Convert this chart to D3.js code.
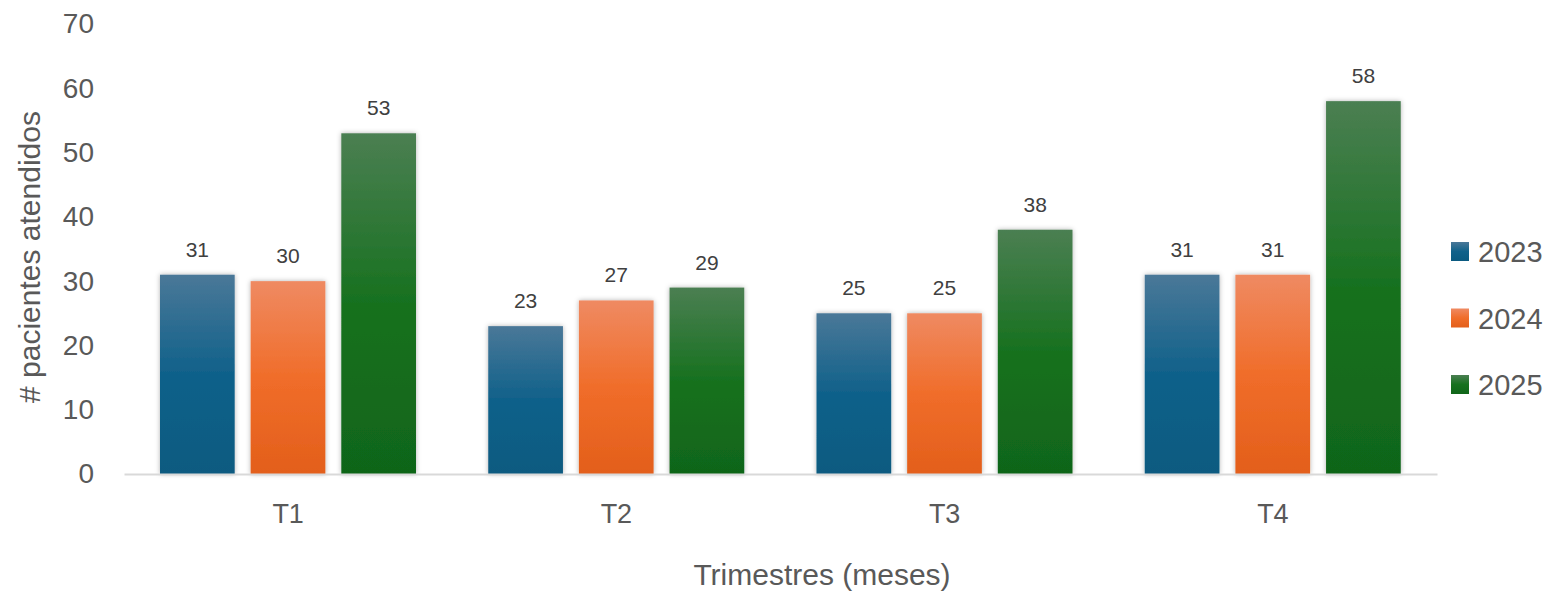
<!DOCTYPE html>
<html>
<head>
<meta charset="utf-8">
<script src="https://cdn.jsdelivr.net/npm/d3@7"></script>
<style>
  body { margin: 0; background: #fff; }
  text { font-family: "Liberation Sans", Arial, sans-serif; }
</style>
</head>
<body>
<svg width="1549" height="595"></svg>
<script>
var categories = ["T1", "T2", "T3", "T4"];
var series = ["2023", "2024", "2025"];
var values2023 = [31, 23, 25, 31];
var values2024 = [30, 27, 25, 31];
var values2025 = [53, 29, 38, 58];
var yTicks = [0, 10, 20, 30, 40, 50, 60, 70];

var seriesValues = [values2023, values2024, values2025];
// colores: arriba, medio, abajo
var colors = [
  ["#4a7898", "#10618a", "#0a5a80"],
  ["#ef8a62", "#f06d2a", "#e35f1b"],
  ["#4b7f52", "#17711f", "#106519"]
];

var svg = d3.select("svg");
var marge = {top: 24, left: 124};
var innerH = 474 - marge.top;

var defs = svg.append("defs");
colors.forEach(function(c, i) {
  var lg = defs.append("linearGradient")
    .attr("id", "grad" + i)
    .attr("x1", 0).attr("y1", 0).attr("x2", 0).attr("y2", 1);
  lg.append("stop").attr("offset", "0%").attr("stop-color", c[0]);
  lg.append("stop").attr("offset", "50%").attr("stop-color", c[1]);
  lg.append("stop").attr("offset", "100%").attr("stop-color", c[2]);
});
var filt = defs.append("filter").attr("id", "sombra")
  .attr("x", "-20%").attr("y", "-20%").attr("width", "140%").attr("height", "140%");
filt.append("feDropShadow")
  .attr("dx", 0).attr("dy", 0).attr("stdDeviation", 2.5)
  .attr("flood-color", "#000").attr("flood-opacity", 0.3);

var g = svg.append("g")
  .attr("transform", "translate(" + marge.left + "," + marge.top + ")");

var x0 = d3.scaleBand()
  .domain(categories)
  .range([0, 1313]);

var x1 = d3.scaleBand()
  .domain(d3.range(series.length))
  .range([36, 292])
  .paddingInner(0.176);

var yScale = d3.scaleLinear()
  .domain([0, 70])
  .range([innerH, 0]);

// eje y (solo etiquetas)
var yAxis = d3.axisLeft(yScale).tickValues(yTicks).tickSize(0).tickPadding(30);
var gy = g.append("g").call(yAxis);
gy.select(".domain").remove();
gy.selectAll("text")
  .attr("font-size", 28)
  .attr("fill", "#595959")
  .attr("font-family", "Liberation Sans, Arial, sans-serif");

// barras
var grupos = g.selectAll(".grupo")
  .data(categories)
  .enter()
  .append("g")
  .attr("transform", function(d) { return "translate(" + x0(d) + ",0)"; });

grupos.each(function(cat, ci) {
  var gg = d3.select(this);
  series.forEach(function(s, si) {
    var v = seriesValues[si][ci];
    gg.append("rect")
      .attr("x", x1(si))
      .attr("y", yScale(v))
      .attr("width", x1.bandwidth())
      .attr("height", innerH - yScale(v))
      .attr("fill", "url(#grad" + si + ")")
      .attr("filter", "url(#sombra)");
    gg.append("text")
      .attr("x", x1(si) + x1.bandwidth() / 2)
      .attr("y", yScale(v) - 18)
      .attr("text-anchor", "middle")
      .attr("font-size", 21)
      .attr("fill", "#404040")
      .text(v);
  });
});

// eje x
var xAxis = d3.axisBottom(x0).tickSize(0).tickPadding(30);
var gx = g.append("g")
  .attr("transform", "translate(0," + innerH + ")")
  .call(xAxis);
gx.select(".domain")
  .attr("stroke", "#d9d9d9")
  .attr("stroke-width", 2);
gx.selectAll("text")
  .attr("font-size", 27)
  .attr("fill", "#595959")
  .attr("font-family", "Liberation Sans, Arial, sans-serif");

// títulos
svg.append("text")
  .attr("transform", "translate(40,257) rotate(-90)")
  .attr("text-anchor", "middle")
  .attr("font-size", 30)
  .attr("fill", "#595959")
  .text("# pacientes atendidos");

svg.append("text")
  .attr("x", 822)
  .attr("y", 585)
  .attr("text-anchor", "middle")
  .attr("font-size", 30)
  .attr("fill", "#595959")
  .text("Trimestres (meses)");

// leyenda
var leyenda = svg.append("g").attr("transform", "translate(1451,242)");
var items = leyenda.selectAll(".item")
  .data(series)
  .enter()
  .append("g")
  .attr("transform", function(d, i) { return "translate(0," + (i * 66.5) + ")"; });
items.append("rect")
  .attr("width", 18).attr("height", 19)
  .attr("fill", function(d, i) { return "url(#grad" + i + ")"; });
items.append("text")
  .attr("x", 27)
  .attr("y", 20)
  .attr("font-size", 29)
  .attr("fill", "#595959")
  .text(function(d) { return d; });
</script>
</body>
</html>
